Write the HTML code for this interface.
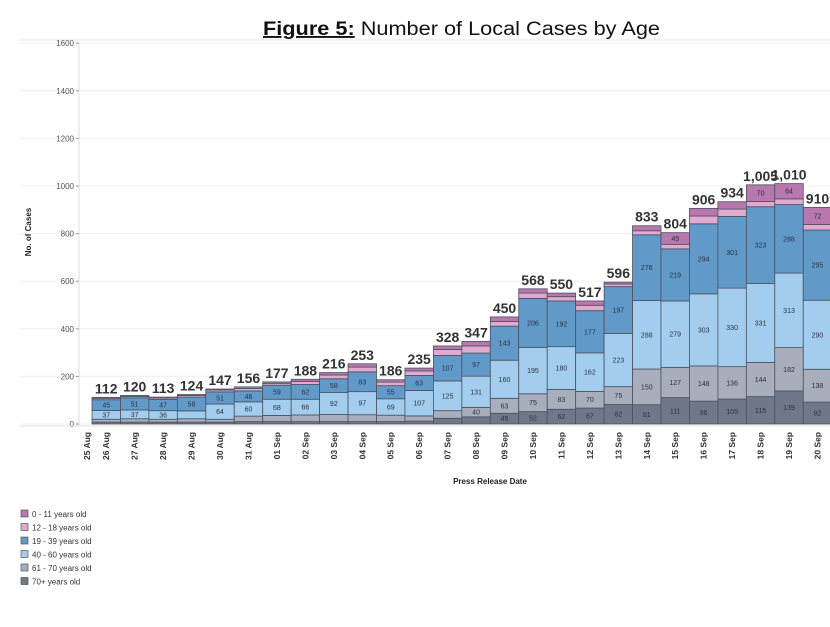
<!DOCTYPE html>
<html><head><meta charset="utf-8"><style>
body{margin:0;background:#fff;width:830px;height:622px;overflow:hidden;font-family:"Liberation Sans",sans-serif}
</style></head><body>
<svg id="s" width="830" height="622" xmlns="http://www.w3.org/2000/svg" font-family="Liberation Sans, sans-serif">
<text x="263" y="35" font-size="19" fill="#111" textLength="397" lengthAdjust="spacingAndGlyphs"><tspan font-weight="bold" text-decoration="underline">Figure 5:</tspan> Number of Local Cases by Age</text>
<line x1="20" y1="40" x2="830" y2="40" stroke="#e6e6e6" stroke-width="1"/>
<text transform="translate(31,232) rotate(-90)" text-anchor="middle" font-size="8" font-weight="bold" fill="#222">No. of Cases</text>
<text x="490" y="484" text-anchor="middle" font-size="8" font-weight="bold" fill="#222">Press Release Date</text>
<g id="g"></g>
</svg>
<script>
var g=document.getElementById('g'),ns='http://www.w3.org/2000/svg';
function el(t,a,txt){var e=document.createElementNS(ns,t);for(var k in a)e.setAttribute(k,a[k]);if(txt!=null)e.textContent=txt;g.appendChild(e);return e;}
var B=424,S=0.238;
for(var v=0;v<=1600;v+=200){var y=B-v*S;el('line',{x1:20,y1:y,x2:830,y2:y,stroke:'#f0f0f0'});el('line',{x1:76,y1:y,x2:79,y2:y,stroke:'#999'});el('text',{x:74,y:y+3,'text-anchor':'end','font-size':'8',fill:'#555'},v);}
el('line',{x1:79,y1:42,x2:79,y2:426,stroke:'#ddd'});
el('line',{x1:20,y1:426,x2:830,y2:426,stroke:'#e0e0e0'});
var D=[[8,12,37,45,6,4],[8,14,37,51,6,4],[8,12,36,47,6,4],[8,14,33,58,7,4],[8,12,64,51,8,4],[10,23,60,46,10,7],[10,26,68,59,8,6],[10,28,66,62,13,9],[10,30,92,58,16,10],[10,29,97,83,20,14],[10,27,69,55,15,10],[12,22,107,63,19,12],[24,32,125,107,25,15],[30,40,131,97,30,19],[45,63,160,143,20,19],[52,75,195,206,22,18],[62,83,180,192,18,15],[67,70,162,177,23,18],[82,75,223,197,11,8],[81,150,288,276,17,21],[111,127,279,219,19,49],[96,148,303,294,33,32],[105,136,330,301,31,31],[115,144,331,323,22,70],[139,182,313,288,24,64],[92,138,290,295,23,72]];
var C=['#6e7887','#a8aebb','#a3cdee','#6199c9','#e2a9d1','#b877ad'];
var dates=['26 Aug','27 Aug','28 Aug','29 Aug','30 Aug','31 Aug','01 Sep','02 Sep','03 Sep','04 Sep','05 Sep','06 Sep','07 Sep','08 Sep','09 Sep','10 Sep','11 Sep','12 Sep','13 Sep','14 Sep','15 Sep','16 Sep','17 Sep','18 Sep','19 Sep','20 Sep'];
var W=28.45,x0=92;
el('text',{transform:'translate(90,432) rotate(-90)','text-anchor':'end','font-size':'8.5',fill:'#333','font-weight':'600'},'25 Aug');
D.forEach(function(d,i){var x=x0+i*W,c=0;d.forEach(function(v,j){var h=v*S,y=B-(c+v)*S;el('rect',{x:x,y:y,width:W,height:h,fill:C[j],stroke:'#4a5260','stroke-width':'0.8'});if(h>8)el('text',{x:x+W/2,y:y+h/2+2.5,'text-anchor':'middle','font-size':'7',fill:'#2a3340'},v);c+=v;});
var t=c>=1000?(c==1005?'1,005':'1,010'):c;el('text',{x:x+W/2,y:B-c*S-4,'text-anchor':'middle','font-size':'14','font-weight':'bold',fill:'#333'},t);
el('text',{transform:'translate('+(x+W/2+3)+',432) rotate(-90)','text-anchor':'end','font-size':'8.5',fill:'#333','font-weight':'600'},dates[i]);});
var L=['0 - 11 years old','12 - 18 years old','19 - 39 years old','40 - 60 years old','61 - 70 years old','70+ years old'];
L.forEach(function(l,i){var y=510+i*13.5;el('rect',{x:21,y:y,width:7,height:7,fill:C[5-i],stroke:'#555','stroke-width':'0.7'});el('text',{x:32,y:y+7,'font-size':'8',fill:'#333'},l);});
</script>
</body></html>
